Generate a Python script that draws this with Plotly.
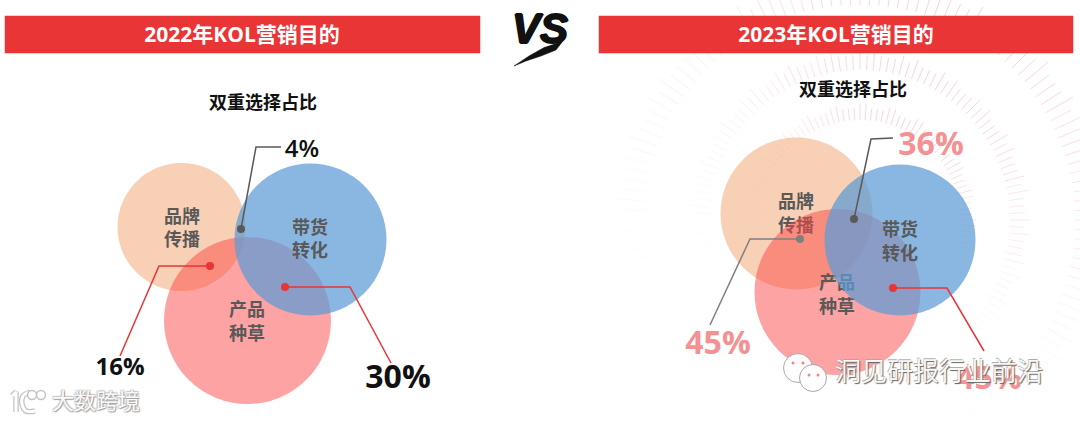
import numpy as np
import plotly.graph_objects as go

FONT = '"Open Sans","Noto Sans CJK SC",sans-serif'
CJK = '"Noto Sans CJK SC",sans-serif'

# Panels
bar_titles = ["2022年KOL营销目的", "2023年KOL营销目的"]
bar_x0 = [5, 599]
bar_x1 = [480, 1073]
bar_y0 = [16, 16]
bar_y1 = [53, 53]
title_x = [242, 836]
title_y = [37, 37]
sub_titles = ["双重选择占比", "双重选择占比"]
sub_x = [263, 853]
sub_y = [104, 91]

# Circles: peach, red, blue per panel
circle_names = ["品牌<br>传播", "产品<br>种草", "带货<br>转化"]
circle_colors = ["rgba(244,177,131,0.6)", "rgba(251,71,71,0.5)", "rgba(91,155,213,0.72)"]
left_cx = [181.5, 247.5, 310.5]
left_cy = [227, 320.5, 239.5]
left_d = [128, 167, 152]
left_tx = [182, 247, 310]
left_ty = [230, 323.5, 241]
right_cx = [796.5, 837.5, 900]
right_cy = [213.5, 292, 240]
right_d = [152, 166, 151]
right_tx = [796, 837, 900]
right_ty = [215.5, 296.5, 243.5]

# Leader lines
left_lines = [
    dict(x=[241, 256, 281], y=[229, 147, 147], c="#595959", label="4%", lx=302, ly=151, s=24, lc="#111111"),
    dict(x=[210, 159, 120], y=[266, 266, 356], c="#e93536", label="16%", lx=120, ly=369, s=24, lc="#111111"),
    dict(x=[285, 350, 391], y=[287, 287, 363], c="#e93536", label="30%", lx=398, ly=380, s=32, lc="#111111"),
]
right_lines = [
    dict(x=[854, 871, 893], y=[219, 139, 138], c="#595959", label="36%", lx=931, ly=147, s=32, lc="#f39193"),
    dict(x=[800, 750, 710], y=[239, 239, 325], c="#7f7f7f", label="45%", lx=718, ly=346, s=32, lc="#f39193"),
    dict(x=[893, 947, 984], y=[288, 288, 351], c="#e93536", label="45%", lx=989, ly=381, s=32, lc="#f39193"),
]

# Background decoration rings on the right panel
ring_center = [860, 220]
ring_inner = [100, 150, 215]
ring_outer = [112, 165, 238]
ring_step_deg = [3.0, 2.5, 2.5]

fig = go.Figure()


def txt(x, y, t, size, color, family=FONT, weight="bold", shadow=None):
    tf = dict(size=size, color=color, family=family, weight=weight)
    if shadow:
        tf["shadow"] = shadow
    fig.add_trace(go.Scatter(x=[x], y=[y], mode="text", text=[t], textposition="middle center",
                             textfont=tf, hoverinfo="skip", showlegend=False))


def line(x, y, color, width=1.5, shape="linear", fill=None):
    fig.add_trace(go.Scatter(x=x, y=y, mode="lines", line=dict(color=color, width=width, shape=shape),
                             fill=fill, fillcolor=color if fill else None,
                             hoverinfo="skip", showlegend=False))


def dots(x, y, color, size, lw=0, lc="rgba(0,0,0,0)"):
    fig.add_trace(go.Scatter(x=x, y=y, mode="markers",
                             marker=dict(color=color, size=size, line=dict(width=lw, color=lc), opacity=1),
                             hoverinfo="skip", showlegend=False))


# decoration rings, fading towards the bottom
buckets = 24
for b in range(buckets):
    th0 = 360 * b / buckets
    th1 = 360 * (b + 1) / buckets
    mid = np.deg2rad((th0 + th1) / 2 - 65)
    alpha = 0.015 + 0.5 * ((1 + np.cos(mid)) / 2) ** 2.2
    xs, ys = [], []
    for r0, r1, st in zip(ring_inner, ring_outer, ring_step_deg):
        for i, a in enumerate(np.arange(th0, th1, st)):
            rad = np.deg2rad(a)
            rr = r1 if i % 4 else r1 + (r1 - r0) * 0.35
            xs += [ring_center[0] + r0 * np.cos(rad), ring_center[0] + rr * np.cos(rad), None]
            ys += [ring_center[1] - r0 * np.sin(rad), ring_center[1] - rr * np.sin(rad), None]
    line(xs, ys, f"rgba(240,170,190,{alpha:.3f})", 1)

# red bars
for x0, x1, y0, y1 in zip(bar_x0, bar_x1, bar_y0, bar_y1):
    line([x0, x1, x1, x0, x0], [y0, y0, y1, y1, y0], "#e93536", 0.5, fill="toself")
for t, x, y in zip(bar_titles, title_x, title_y):
    txt(x, y, t, 21, "#ffffff")
for t, x, y in zip(sub_titles, sub_x, sub_y):
    txt(x, y, t, 18, "#111111", family=CJK)

# circles with labels stacked as in the reference
for cx, cy, d, tx, ty in ((left_cx, left_cy, left_d, left_tx, left_ty),
                          (right_cx, right_cy, right_d, right_tx, right_ty)):
    for i in range(3):
        dots([cx[i]], [cy[i]], circle_colors[i], d[i])
        txt(tx[i], ty[i], circle_names[i], 18, "#595959", family=CJK)

# leaders
for ln in left_lines + right_lines:
    line(ln["x"], ln["y"], ln["c"], 1.5)
    dots(ln["x"][:1], ln["y"][:1], ln["c"], 8)
    txt(ln["lx"], ln["ly"], ln["label"], ln["s"], ln["lc"],
        weight=600 if ln["label"] == "4%" else 700)

# VS mark
txt(540, 32, "VS", 42, "#111111", family="Liberation Sans", weight="bold",
    shadow="1px 0 0 #111, -1px 0 0 #111, 0 1px 0 #111, 0 -1px 0 #111")
fig.data[-1].textfont.style = "italic"
tail_x = [563, 556, 541, 526, 514, 529, 545]
tail_y = [41, 50, 56, 61, 66, 56, 47]
line(tail_x, tail_y, "#111111", 0.5, fill="toself")

# watermarks
wm_shadow = "1px 1px 1px #5e5e5e, -0.5px -0.5px 0.5px #a8a8a8"
wx_x = [798, 813]
wx_y = [368, 378]
wx_d = [29, 27]
dots(wx_x, wx_y, "rgba(255,255,255,0.93)", wx_d, 1, "#a8a8a8")
dots([793, 803, 809, 818], [363, 363, 375, 375], "#d98f8f", 3)
txt(939, 374, "洞见研报行业前沿", 26, "rgba(255,255,255,0.95)", family=CJK, weight="normal", shadow=wm_shadow)

logo_grey = "#c4c4c4"
logo_white = "#ffffff"
for col, w in ((logo_grey, 5.5), (logo_white, 3)):
    line([12, 16, 16], [396, 392, 412], col, w)
    line([30, 23, 22, 26, 35], [392, 396, 404, 411, 411], col, w, shape="spline")
dots([32, 41], [395, 395], "rgba(255,255,255,0.9)", [9, 9], 1.5, logo_grey)
txt(96, 403, "大数跨境", 22, "rgba(255,255,255,0.95)", family=CJK, weight="normal",
    shadow="1px 1px 1px #9a9a9a, -1px -1px 1px #c8c8c8, 1px -1px 1px #c8c8c8, -1px 1px 1px #c8c8c8")

fig.update_layout(
    width=1080, height=422, margin=dict(l=0, r=0, t=0, b=0),
    paper_bgcolor="#ffffff", plot_bgcolor="#ffffff", showlegend=False, hovermode=False,
    xaxis=dict(range=[0, 1080], visible=False, fixedrange=True),
    yaxis=dict(range=[422, 0], visible=False, fixedrange=True),
)
fig.write_html("out.html", config={"displayModeBar": False, "responsive": False},
               post_script="document.body.style.margin='0';document.body.style.overflow='hidden';")
